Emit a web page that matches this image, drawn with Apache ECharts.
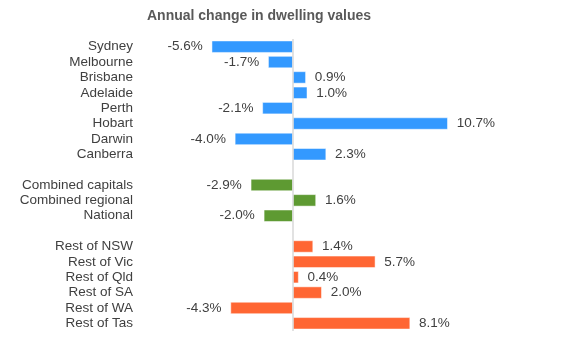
<!DOCTYPE html>
<html>
<head>
<meta charset="utf-8">
<script src="https://cdn.jsdelivr.net/npm/echarts@6/dist/echarts.min.js"></script>
<style>
  html, body { margin: 0; padding: 0; background: #fff; }
  #chart { width: 580px; height: 352px; }
</style>
</head>
<body>
<div id="chart"></div>
<script>
// blank entries are the spacer rows between groups
const categories = [
  'Sydney', 'Melbourne', 'Brisbane', 'Adelaide', 'Perth', 'Hobart', 'Darwin', 'Canberra',
  '',
  'Combined capitals', 'Combined regional', 'National',
  ' ',
  'Rest of NSW', 'Rest of Vic', 'Rest of Qld', 'Rest of SA', 'Rest of WA', 'Rest of Tas'
];
const values = [
  -5.6, -1.7, 0.9, 1.0, -2.1, 10.7, -4.0, 2.3,
  null,
  -2.9, 1.6, -2.0,
  null,
  1.4, 5.7, 0.4, 2.0, -4.3, 8.1
];
const groups = [
  'cap', 'cap', 'cap', 'cap', 'cap', 'cap', 'cap', 'cap',
  null,
  'agg', 'agg', 'agg',
  null,
  'reg', 'reg', 'reg', 'reg', 'reg', 'reg'
];
const groupColors = { cap: '#3399FF', agg: '#5E9A32', reg: '#FF6633' };

const chart = echarts.init(document.getElementById('chart'));

const barData = values.map((v, i) => {
  if (v === null) return '-';
  return {
    value: v,
    itemStyle: { color: groupColors[groups[i]] },
    label: { position: v < 0 ? 'left' : 'right' }
  };
});

chart.setOption({
  animation: false,
  textStyle: { fontFamily: 'Liberation Sans' },
  title: {
    text: 'Annual change in dwelling values',
    left: 142,
    top: 4,
    textStyle: { fontSize: 14, fontWeight: 'bold', color: '#595959' }
  },
  grid: { left: 148, right: 70, top: 39, bottom: 21 },
  xAxis: {
    type: 'value',
    min: -10,
    max: 15,
    show: false
  },
  yAxis: {
    type: 'category',
    inverse: true,
    data: categories,
    axisLine: { show: false },
    axisTick: { show: false },
    axisLabel: { color: '#404040', fontSize: 13.5, margin: 15, interval: 0 }
  },
  series: [{
    type: 'bar',
    data: barData,
    barCategoryGap: '22%',
    itemStyle: { borderColor: '#fff', borderWidth: 0.5 },
    label: {
      show: true,
      distance: 9,
      color: '#404040',
      fontSize: 13.5,
      formatter: (p) => p.value.toFixed(1) + '%'
    },
    markLine: {
      silent: true,
      symbol: 'none',
      label: { show: false },
      lineStyle: { color: '#d9d9d9', type: 'solid', width: 1.5 },
      data: [{ xAxis: 0 }]
    }
  }]
});
</script>
</body>
</html>
